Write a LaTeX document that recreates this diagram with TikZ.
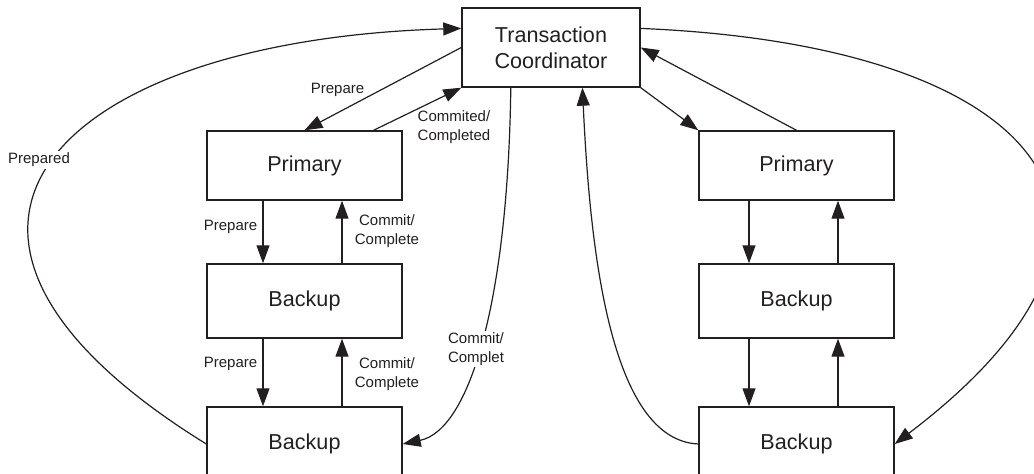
\documentclass[tikz,border=0pt]{standalone}
\usepackage{fontspec}
\setmainfont{Liberation Sans}
\usetikzlibrary{arrows.meta}
\definecolor{ink}{HTML}{231F20}

\tikzset{
  box/.style = {draw=ink, line width=0.7pt, inner sep=0pt, minimum width=97.5pt,
                font=\fontsize{10.8}{13}\selectfont, text=ink, align=center},
  msg/.style = {draw=ink, line width=0.6pt, -{Triangle[length=9pt,width=6.5pt]}},
  lbl/.style = {inner sep=1pt, font=\fontsize{7.5}{9.5}\selectfont, text=ink, align=center},
}

\begin{document}
\begin{tikzpicture}[x=0.5pt, y=-0.5pt]
    \useasboundingbox (0,0) rectangle (1034,474);

    \node[box, minimum width=89pt, minimum height=39.5pt] (tc) at (551,47.5) {Transaction\\Coordinator};

    % left replica chain
    \node[box, minimum height=34.5pt] (lp) at (304.5,165.5) {Primary};
    \node[box, minimum height=37pt] (lb1) at (304.5,301) {Backup};
    \node[box, minimum height=37pt] (lb2) at (304.5,444) {Backup};

    % right replica chain
    \node[box, minimum height=34.5pt] (rp) at (796.5,165.5) {Primary};
    \node[box, minimum height=37pt] (rb1) at (796.5,301) {Backup};
    \node[box, minimum height=37pt] (rb2) at (796.5,444) {Backup};

    \draw[msg] (tc.west) -- (lp.north);
    \draw[msg] (lp.27) -- (tc.south west);
    \draw[msg] (263,0 |- lp.south) -- (263,0 |- lb1.north);
    \draw[msg] (342,0 |- lb1.north) -- (342,0 |- lp.south);
    \draw[msg] (263,0 |- lb1.south) -- (263,0 |- lb2.north);
    \draw[msg] (342,0 |- lb2.north) -- (342,0 |- lb1.south);
    \draw[msg] (lb2.west) .. controls (-140,230) and (60,40) .. (tc.168);
    \draw[msg] (tc.225) .. controls (508,300) and (470,430) .. (lb2.east);

    \draw[msg] (tc.south east) -- (rp.north west);
    \draw[msg] (rp.north) -- (tc.east);
    \draw[msg] (749,0 |- rp.south) -- (749,0 |- rb1.north);
    \draw[msg] (838,0 |- rb1.north) -- (838,0 |- rp.south);
    \draw[msg] (749,0 |- rb1.south) -- (749,0 |- rb2.north);
    \draw[msg] (838,0 |- rb2.north) -- (838,0 |- rb1.south);
    \draw[msg] (rb2.west) .. controls (610,440) and (590,250) .. (tc.-52);
    \draw[msg] (tc.12) .. controls (1040,45) and (1190,220) .. (rb2.east);

    \node[lbl] (prepTop) at (337.5,90) {Prepare};
    \node[lbl] (doneTop) at (454,127.5) {Commited/\\Completed};
    \node[lbl] (prep1) at (230.5,227) {Prepare};
    \node[lbl] (done1) at (387,231.5) {Commit/\\Complete};
    \node[lbl] (prep2) at (230.5,364) {Prepare};
    \node[lbl] (done2) at (387,374.5) {Commit/\\Complete};
    \node[lbl, fill=white] (prepared) at (39,160) {Prepared};
    \node[lbl, fill=white] (commitTc) at (476,349) {Commit/\\Complet};
\end{tikzpicture}
\end{document}
